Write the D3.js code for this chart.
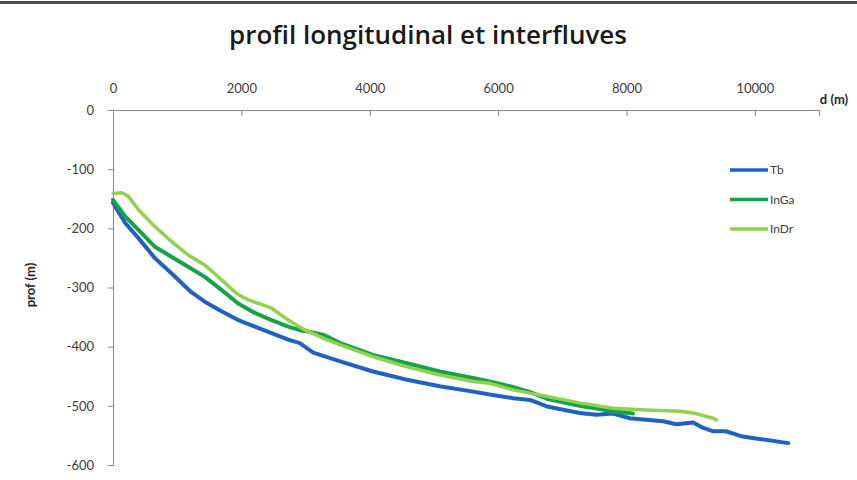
<!DOCTYPE html>
<html>
<head>
<meta charset="utf-8">
<script src="https://cdn.jsdelivr.net/npm/d3@7"></script>
<style>
  body { margin: 0; background: #fff; }
  svg text { font-family: Lato, "Open Sans", sans-serif; }
  svg text.title { font-family: "Open Sans", sans-serif; }
</style>
</head>
<body>
<div id="chart"></div>
<script>
// series: distance (m) and depth (m)
const seriesNames = ["Tb", "InGa", "InDr"]

const tbDist = [0, 190, 400, 650, 910, 1220, 1430, 1690, 1950, 2210, 2470, 2730, 2910, 3120, 3540, 4050, 4580, 5090, 5610, 5870, 6230, 6500, 6760, 7270, 7530, 7790, 8050, 8570, 8780, 9040, 9190, 9350, 9550, 9810, 10070, 10520]
const tbProf = [-157, -191, -217, -250, -276, -308, -324, -340, -355, -366, -377, -388, -394, -410, -425, -442, -456, -467, -476, -481, -487, -490, -501, -512, -515, -513, -521, -526, -531, -528, -537, -543, -543, -552, -556, -563]

const ingaDist = [0, 190, 400, 650, 910, 1170, 1430, 1690, 1950, 2210, 2470, 2730, 2940, 3020, 3280, 3540, 4050, 4580, 5090, 5610, 5870, 6230, 6500, 6760, 7270, 7790, 8100]
const ingaProf = [-152, -180, -203, -231, -248, -265, -282, -304, -327, -343, -355, -366, -373, -374, -380, -394, -414, -428, -442, -453, -459, -468, -477, -488, -500, -509, -513]

const indrDist = [0, 140, 240, 400, 650, 910, 1170, 1430, 1640, 1800, 1950, 2110, 2320, 2470, 2730, 2940, 3280, 3540, 4050, 4580, 5090, 5610, 5870, 6230, 6760, 7270, 7790, 8310, 8830, 9040, 9350, 9400]
const indrProf = [-141, -140, -146, -169, -197, -222, -245, -262, -282, -298, -312, -321, -329, -335, -355, -369, -386, -397, -417, -434, -448, -459, -462, -473, -484, -495, -504, -507, -509, -512, -521, -524]

const xTicks = [0, 2000, 4000, 6000, 8000, 10000]
const yTicks = [0, -100, -200, -300, -400, -500, -600]

const colors = {Tb: "#1f62c0", InGa: "#15a34a", InDr: "#92d050"}

const series = [
  {name: "Tb", pts: tbDist.map((d, i) => [d, tbProf[i]])},
  {name: "InGa", pts: ingaDist.map((d, i) => [d, ingaProf[i]])},
  {name: "InDr", pts: indrDist.map((d, i) => [d, indrProf[i]])}
]

const W = 857, H = 480
const svg = d3.select("#chart").append("svg")
  .attr("width", W)
  .attr("height", H)

svg.append("rect").attr("width", W).attr("height", H).attr("fill", "#fff")
// dark frame edge at the top
svg.append("rect").attr("x", 0).attr("y", 1).attr("width", W).attr("height", 3).attr("fill", "#4d4d4d")

const x = d3.scaleLinear().domain([0, 11000]).range([113, 819])
const y = d3.scaleLinear().domain([-600, 0]).range([465, 110])

// title
svg.append("text")
  .attr("class", "title")
  .attr("x", 428).attr("y", 44)
  .attr("text-anchor", "middle")
  .attr("font-size", 26)
  .attr("font-weight", 600)
  .attr("fill", "#1a1a1a")
  .text("profil longitudinal et interfluves")

// x axis on top, ticks pointing down
const xAxis = svg.append("g")
  .attr("transform", "translate(0," + y(0) + ")")
  .call(d3.axisBottom(x).tickValues(xTicks).tickSize(6).tickFormat(d => String(d)))
xAxis.select(".domain").attr("stroke", "#888")
xAxis.selectAll(".tick line").attr("stroke", "#888")
xAxis.selectAll(".tick text")
  .attr("y", -26)
  .attr("font-size", 13)
  .attr("fill", "#404040")

const yAxis = svg.append("g")
  .attr("transform", "translate(" + x(0) + ",0)")
  .call(d3.axisLeft(y).tickValues(yTicks).tickSize(5).tickPadding(14).tickFormat(d => String(d)))
yAxis.select(".domain").attr("stroke", "#888")
yAxis.selectAll(".tick line").attr("stroke", "#888")
yAxis.selectAll(".tick text")
  .attr("font-size", 13)
  .attr("fill", "#404040")

// axis titles
svg.append("text")
  .attr("x", 834).attr("y", 104)
  .attr("text-anchor", "middle")
  .attr("font-size", 13)
  .attr("font-weight", 700)
  .attr("fill", "#262626")
  .text("d (m)")

svg.append("text")
  .attr("transform", "translate(35,285) rotate(-90)")
  .attr("text-anchor", "middle")
  .attr("font-size", 13)
  .attr("font-weight", 700)
  .attr("fill", "#262626")
  .text("prof (m)")

// lines
const line = d3.line()
  .x(d => x(d[0]))
  .y(d => y(d[1]))

svg.append("g")
  .selectAll("path")
  .data(series)
  .enter()
  .append("path")
    .attr("d", d => line(d.pts))
    .attr("fill", "none")
    .attr("stroke", d => colors[d.name])
    .attr("stroke-width", d => d.name === "InDr" ? 3.5 : 4)
    .attr("stroke-linejoin", "round")
    .attr("stroke-linecap", "round")

// legend
const legend = svg.append("g")
  .selectAll("g")
  .data(seriesNames)
  .enter()
  .append("g")
    .attr("transform", (d, i) => "translate(730," + (170 + i * 29.5) + ")")
legend.append("line")
  .attr("x1", 0).attr("x2", 38)
  .attr("stroke", d => colors[d])
  .attr("stroke-width", 3.5)
legend.append("text")
  .attr("x", 40).attr("y", 4)
  .attr("font-size", 12)
  .attr("fill", "#404040")
  .text(d => d)
</script>
</body>
</html>
